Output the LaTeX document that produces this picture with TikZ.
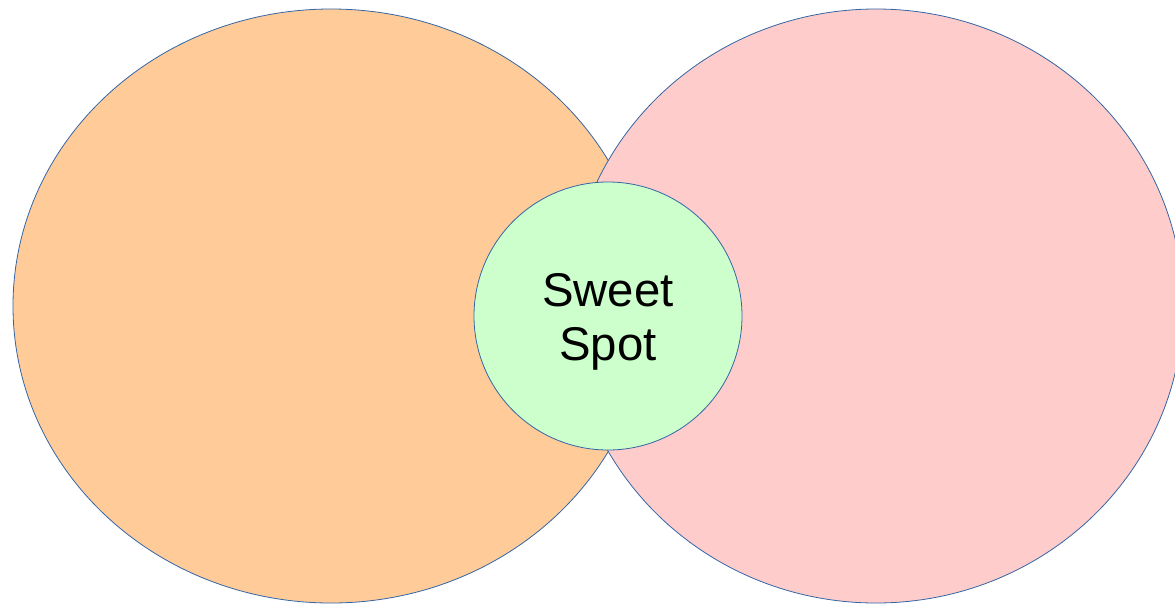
\documentclass[tikz,border=0pt]{standalone}
\usepackage{fontspec}
\setmainfont{Liberation Sans}
\usepackage{xcolor}
\usepackage{tikz}
\usetikzlibrary{calc}
\definecolor{venn-line}{RGB}{52, 101, 164}
\definecolor{venn-orange}{RGB}{255, 204, 153}
\definecolor{venn-pink}{RGB}{255, 204, 204}
\definecolor{venn-green}{RGB}{204, 255, 204}

\begin{document}
\begin{tikzpicture}[x = 0.75pt, y = -0.75pt]
          \useasboundingbox (0, 0) rectangle (1175, 604);
          \clip (0, 0) rectangle (1175, 604);
          \coordinate (left-set) at (331, 306);
          \coordinate (right-set) at (876, 306);
          \coordinate (spot) at (608, 316);


          \draw[venn-line, line width = 0.6pt, fill = venn-orange] (left-set) ellipse[x radius = 318, y radius = 297];
          \draw[venn-line, line width = 0.6pt, fill = venn-pink] (right-set) ellipse[x radius = 307, y radius = 297];
          \node[circle, draw = venn-line, line width = 0.6pt, fill = venn-green, minimum size = 201pt, inner sep = 0pt] (sweet) at (spot) {};
          \node[align = center, font = \fontsize{35.5}{40.5}\selectfont] (sweet-label) at ($(spot) + (0, 6)$) {Sweet\\Spot};

        \end{tikzpicture}
\end{document}
